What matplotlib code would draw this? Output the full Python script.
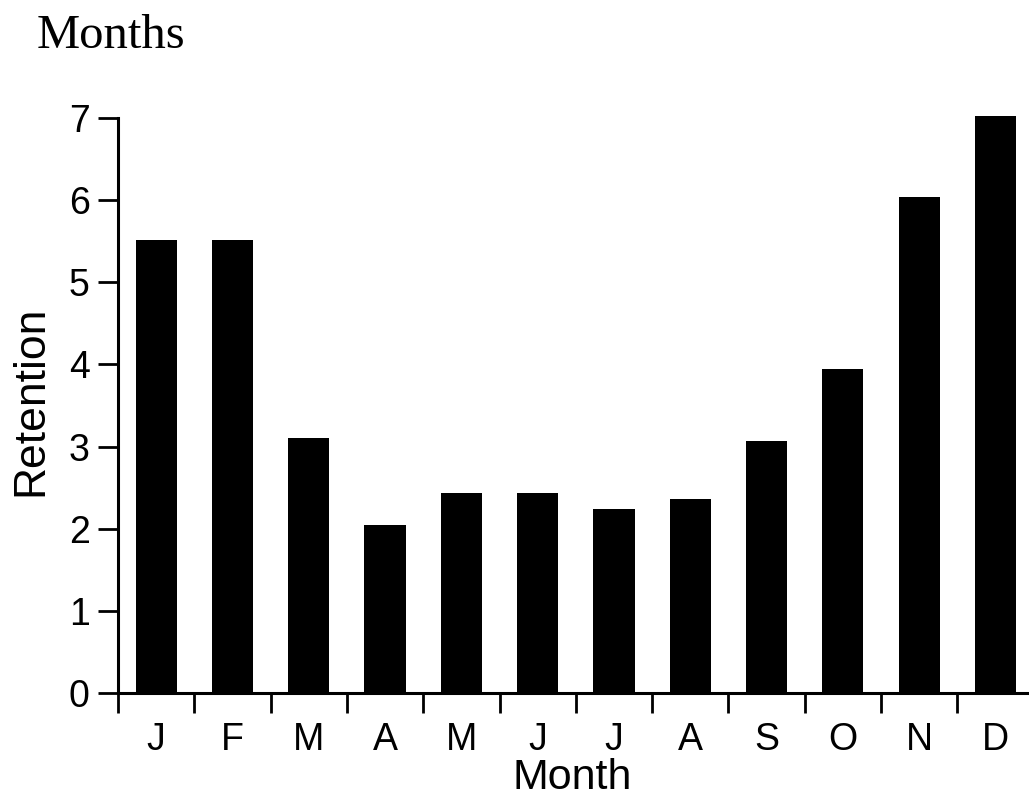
import matplotlib
matplotlib.use("Agg")
import matplotlib.pyplot as plt
import numpy as np

months = ["J", "F", "M", "A", "M", "J", "J", "A", "S", "O", "N", "D"]
retention = [5.52, 5.52, 3.11, 2.04, 2.43, 2.43, 2.24, 2.36, 3.07, 3.95, 6.04, 7.03]
y_ticks = [0, 1, 2, 3, 4, 5, 6, 7]

W, H = 1029, 798
fig = plt.figure(figsize=(W / 100, H / 100), dpi=100)
left_px, bottom_px, top_px = 118, 693, 118
ax = fig.add_axes([left_px / W, (H - bottom_px) / H, 1 - left_px / W, (bottom_px - top_px) / H])

x = np.arange(len(months))
ax.bar(x, retention, width=0.54, color="black", clip_on=False, zorder=3)

spacing = 76.3
ax.set_xlim(-0.5, -0.5 + (W - left_px) / spacing)
ax.set_ylim(0, 7)

for s in ["top", "right"]:
    ax.spines[s].set_visible(False)
for s in ["left", "bottom"]:
    ax.spines[s].set_linewidth(2.2)

sans = "Liberation Sans"
ax.set_yticks(y_ticks)
ax.set_yticklabels([str(v) for v in y_ticks], fontsize=27, family=sans)
ax.tick_params(axis="y", direction="out", length=14.5, width=2.0, pad=6)

# labels at bar centres, tick marks at category boundaries
ax.set_xticks(x)
ax.set_xticklabels(months, fontsize=27, family=sans)
ax.tick_params(axis="x", which="major", length=0, pad=21)
ax.set_xticks(np.arange(-0.5, len(months) - 0.5, 1.0), minor=True)
ax.tick_params(axis="x", which="minor", direction="out", length=14.5, width=2.0)

fig.text(31 / W, 1 - 401 / H, "Retention", rotation=90, fontsize=32, family=sans,
         ha="center", va="center")
fig.text(572 / W, 1 - 789 / H, "Month", fontsize=31, family=sans, ha="center", va="baseline")
fig.text(37 / W, 1 - 48 / H, "Months", fontsize=35, family="Liberation Serif",
         ha="left", va="baseline")

fig.savefig("out.png", dpi=100)
